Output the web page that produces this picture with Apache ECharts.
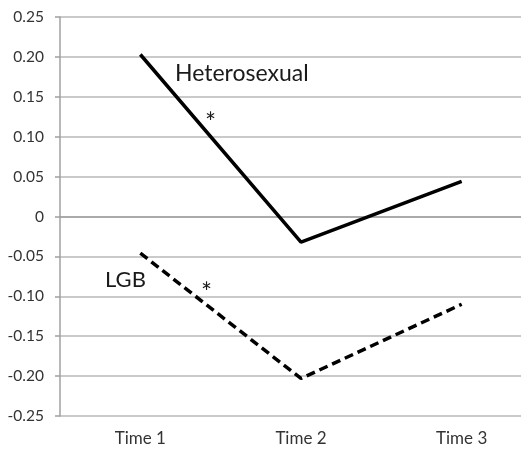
<!DOCTYPE html>
<html>
<head>
<meta charset="utf-8">
<script src="https://cdn.jsdelivr.net/npm/echarts@6/dist/echarts.min.js"></script>
<style>
html,body{margin:0;padding:0;background:#fff;overflow:hidden;width:521px;height:450px;}
#c{width:542px;height:450px;}
</style>
</head>
<body>
<div id="c"></div>
<script>
var categories = ['Time 1', 'Time 2', 'Time 3'];
var heterosexual = [0.203, -0.032, 0.044];
var lgb = [-0.046, -0.203, -0.110];
var yMin = -0.25, yMax = 0.25, yStep = 0.05;

var chart = echarts.init(document.getElementById('c'), null, {renderer: 'canvas'});
var font = 'Lato, "Open Sans", sans-serif';
chart.setOption({
  animation: false,
  backgroundColor: '#fff',
  grid: {left: 60, right: 0, top: 17, bottom: 34, containLabel: false},
  xAxis: {
    type: 'category',
    data: categories,
    boundaryGap: true,
    axisLine: {lineStyle: {color: '#a0a0a0', width: 1.5}},
    axisTick: {show: false},
    axisLabel: {color: '#333', fontFamily: font, fontSize: 17, margin: 14}
  },
  yAxis: {
    type: 'value',
    min: yMin, max: yMax, interval: yStep,
    axisLine: {show: true, lineStyle: {color: '#a0a0a0', width: 1.5}},
    axisTick: {show: true, length: 5, lineStyle: {color: '#a0a0a0', width: 1.5}},
    splitLine: {show: true, lineStyle: {color: '#b8b8b8', width: 1.5}},
    axisLabel: {
      color: '#333', fontFamily: font, fontSize: 15.5, margin: 16,
      formatter: function (v) { return Math.abs(v) < 1e-9 ? '0' : v.toFixed(2); }
    }
  },
  series: [
    {
      name: 'Heterosexual', type: 'line', data: heterosexual,
      symbol: 'none', lineStyle: {color: '#000', width: 3.5, type: 'solid'}
    },
    {
      name: 'LGB', type: 'line', data: lgb,
      symbol: 'none', lineStyle: {color: '#000', width: 3.5, type: [9, 5]}
    }
  ],
  graphic: [
    {type: 'text', left: 175, top: 62, style: {text: 'Heterosexual', fill: '#1a1a1a', font: '23px ' + font}},
    {type: 'text', left: 205, top: 111, style: {text: '*', fill: '#1a1a1a', font: '26px ' + font}},
    {type: 'text', left: 105, top: 269, style: {text: 'LGB', fill: '#1a1a1a', font: '22px ' + font}},
    {type: 'text', left: 201, top: 281, style: {text: '*', fill: '#1a1a1a', font: '26px ' + font}}
  ]
});
</script>
</body>
</html>
